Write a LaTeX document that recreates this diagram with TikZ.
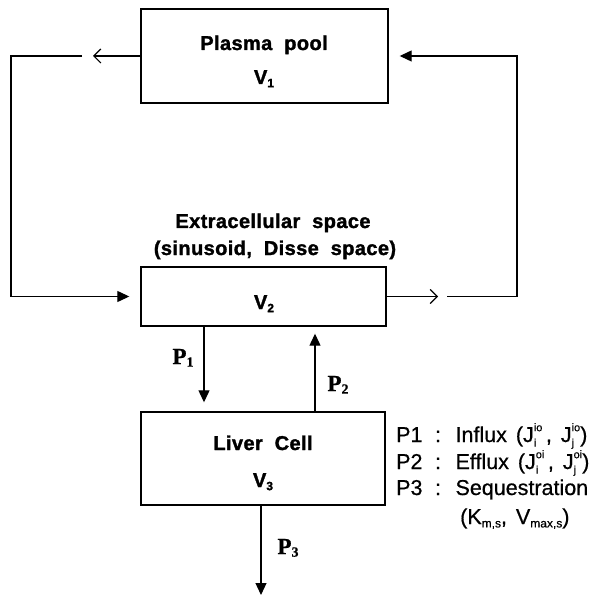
\documentclass[tikz,border=0pt]{standalone}
\usepackage{fontspec}
\setmainfont{Liberation Sans}
\newfontfamily\boxfont[WordSpace=2.0,LetterSpace=2,FakeBold=1.5]{Liberation Sans}
\newfontfamily\legfont[WordSpace=1.5,FakeBold=0.6]{Liberation Sans}
\newfontfamily\serfont[FakeBold=0.8]{Liberation Serif}
\usetikzlibrary{arrows.meta}
\newcommand\mysub[1]{\raisebox{-0.3ex}{\fontsize{12}{12}\selectfont #1}}
\newcommand\mypsub[1]{\raisebox{-0.25ex}{\fontsize{14}{14}\selectfont #1}}
\newcommand\mysubsup[2]{\makebox[0pt][l]{\raisebox{-0.4ex}{\fontsize{11}{11}\selectfont #1}}\raisebox{0.95ex}{\fontsize{11}{11}\selectfont #2}}
\begin{document}
\begin{tikzpicture}[x=1pt,y=-1pt,
  box/.style={draw,line width=1.4pt,inner sep=0pt},
  btext/.style={anchor=base,font=\boxfont\bfseries\fontsize{20}{24}\selectfont,inner sep=0pt},
  ltext/.style={anchor=base west,font=\legfont\fontsize{21.5}{25}\selectfont,inner sep=0pt},
  ptext/.style={anchor=base,font=\serfont\bfseries\fontsize{23}{27}\selectfont,inner sep=0pt},
  farrow/.style={line width=1.2pt,-{Triangle[length=12pt,width=11pt]}},
  oarrow/.style={line width=1.2pt,-{Straight Barb[length=7pt,width=14pt,line width=1.2pt]}}]
\useasboundingbox (0,0) rectangle (597,596);
% boxes
\node[box,minimum width=247pt,minimum height=94pt] (pp) at (264.5,56) {};
\node[box,minimum width=245pt,minimum height=59pt] (ec) at (263.5,296.5) {};
\node[box,minimum width=244pt,minimum height=93pt] (lc) at (263,458.5) {};
% box texts
\node[btext] (t1) at (264,50) {Plasma pool};
\node[btext] (t2) at (264,84) {V\mysub{1}};
\node[btext] (t3) at (273,228) {Extracellular space};
\node[btext] (t4) at (275,255) {(sinusoid, Disse space)};
\node[btext] (t5) at (264,309) {V\mysub{2}};
\node[btext] (t6) at (263,450) {Liver Cell};
\node[btext] (t7) at (263,487) {V\mysub{3}};
% left loop
\coordinate (a1) at (93,56);
\coordinate (c1) at (82,56);
\coordinate (c2) at (11,56);
\draw[oarrow] (pp.west) -- (a1);
\draw[farrow,shorten >=11pt] (c1) -- (c2) |- (ec.west);
% right loop
\coordinate (a2) at (438,296.5);
\coordinate (c4) at (447,296.5);
\coordinate (c5) at (517,56);
\draw[oarrow] (ec.east) -- (a2);
\draw[farrow,shorten >=11pt] (c4) -| (c5) -- (pp.east);
% vertical arrows
\coordinate (x1) at (204,0);
\coordinate (x2) at (315,0);
\coordinate (x3) at (261,0);
\coordinate (e3) at (261,595);
\draw[farrow,shorten >=9pt] (ec.south -| x1) -- (lc.north -| x1);
\draw[farrow,shorten >=7pt] (lc.north -| x2) -- (ec.south -| x2);
\draw[farrow] (lc.south -| x3) -- (e3);
% P labels
\node[ptext] (p1) at (183,364) {P\mypsub{1}};
\node[ptext] (p2) at (338,391) {P\mypsub{2}};
\node[ptext] (p3) at (288,554) {P\mypsub{3}};
% legend
\node[ltext] (l1) at (396,442) {P1 \,:\, Influx (J\mysubsup{i}{io}\,, J\mysubsup{j}{io})};
\node[ltext] (l2) at (396,469) {P2 \,:\, Efflux (J\mysubsup{i}{oi}\,, J\mysubsup{j}{oi})};
\node[ltext] (l3) at (396,495) {P3 \,:\, Sequestration};
\node[ltext] (l4) at (460,524) {(K\mysub{m,s}, V\mysub{max,s})};
\end{tikzpicture}
\end{document}
